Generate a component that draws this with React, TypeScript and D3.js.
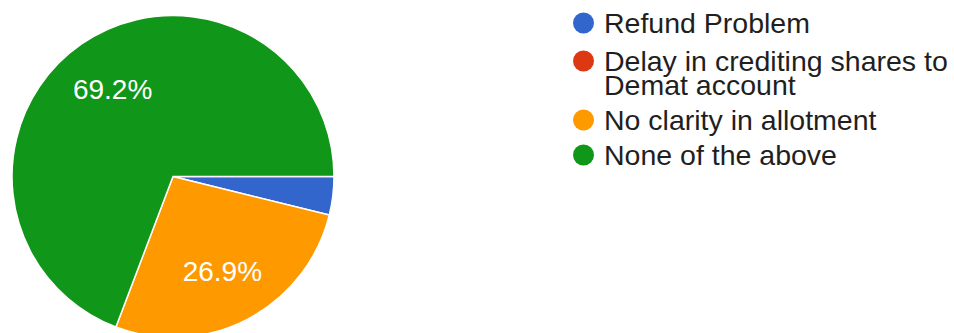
import React from "react";
import * as d3 from "d3";

const categories = [
  "Refund Problem",
  "Delay in crediting shares to Demat account",
  "No clarity in allotment",
  "None of the above",
];
const counts = [1, 0, 7, 18];
const colors = ["#3366cc", "#dc3912", "#ff9900", "#109618"];
const legendLines = [
  ["Refund Problem"],
  ["Delay in crediting shares to", "Demat account"],
  ["No clarity in allotment"],
  ["None of the above"],
];

const W = 954;
const H = 333;
const FONT = "'Liberation Sans', Arial, Helvetica, sans-serif";

export default function App() {
  const cx = 173;
  const cy = 176.5;
  const r = 161;
  const total = d3.sum(counts);
  const pie = d3
    .pie<number>()
    .sort(null)
    .startAngle(Math.PI / 2)
    .endAngle(Math.PI / 2 + 2 * Math.PI)
    .value((d) => d);
  const arcs = pie(counts);
  const arcGen = d3.arc<d3.PieArcDatum<number>>().innerRadius(0).outerRadius(r);
  const labelArc = d3
    .arc<d3.PieArcDatum<number>>()
    .innerRadius(r * 0.66)
    .outerRadius(r * 0.66);

  // legend layout
  const legendX = 583.5;
  const textX = 604;
  const rowBaselines = [33, 71, 130, 165];
  const wrapGap = 23.5;

  return (
    <svg
      width={W}
      height={H}
      style={{ position: "absolute", left: 0, top: 0, display: "block" }}
    >
      <rect width={W} height={H} fill="#ffffff" />
      <g transform={`translate(${cx},${cy})`}>
        {arcs.map((a, i) =>
          a.value > 0 ? (
            <path
              key={i}
              d={arcGen(a) || ""}
              fill={colors[i]}
              stroke="#ffffff"
              strokeWidth={1.5}
            />
          ) : null
        )}
        {arcs.map((a, i) => {
          const pct = (a.value / total) * 100;
          if (pct < 5) return null;
          const [x, y] = labelArc.centroid(a);
          return (
            <text
              key={"l" + i}
              x={x}
              y={y + 10}
              textAnchor="middle"
              fill="#ffffff"
              fontFamily={FONT}
              fontSize={28}
            >
              {pct.toFixed(1) + "%"}
            </text>
          );
        })}
      </g>
      <g>
        {categories.map((c, i) => (
          <g key={c}>
            <circle
              cx={legendX}
              cy={rowBaselines[i] - 10}
              r={10.5}
              fill={colors[i]}
            />
            {legendLines[i].map((line, j) => (
              <text
                key={j}
                x={textX}
                y={rowBaselines[i] + j * wrapGap}
                fill="#1f1f1f"
                fontFamily={FONT}
                fontSize={28.5}
              >
                {line}
              </text>
            ))}
          </g>
        ))}
      </g>
    </svg>
  );
}
